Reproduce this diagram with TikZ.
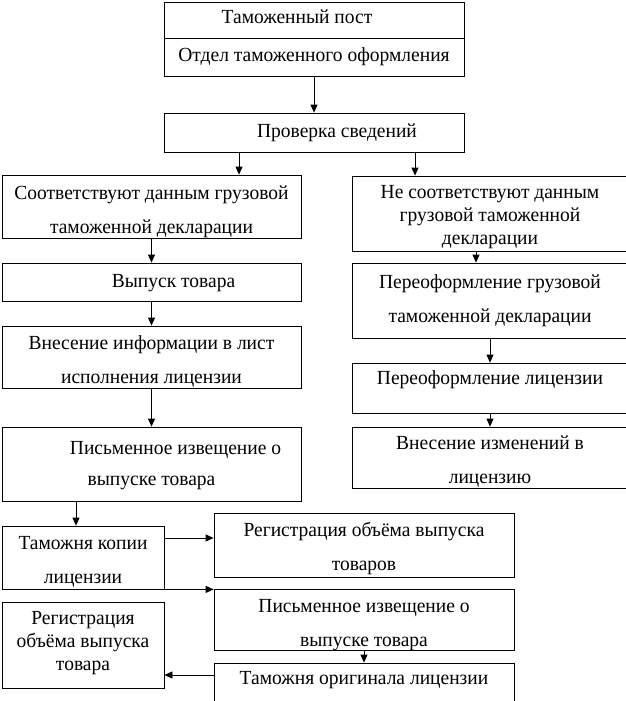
\documentclass[tikz,border=0pt]{standalone}
\usepackage{fontspec}
\setmainfont[FakeStretch=0.975]{Liberation Serif}
\usetikzlibrary{arrows.meta}
\newcommand\boxtext[2][0pt]{\raisebox{#1}[\height][\depth]{\begin{tabular}{@{}c@{}}#2\end{tabular}}}
\tikzset{
  box/.style={draw, line width=0.8pt, align=center, inner sep=0pt,
    font=\fontsize{20}{23}\selectfont},
  arr/.style={line width=0.8pt, -{Triangle[length=8pt,width=7pt]}}
}
\begin{document}
\begin{tikzpicture}[x=1pt,y=-1pt]
\useasboundingbox (0,0) rectangle (626,701);
\clip (0,0) rectangle (626,701);
% top
\node[box, minimum width=300, minimum height=36] (post) at (314,20) {\boxtext[1pt]{\hspace*{-34pt}Таможенный пост}};
\node[box, minimum width=300, minimum height=38] (dept) at (314,57) {\boxtext{Отдел таможенного оформления}};
\node[box, minimum width=300, minimum height=39] (check) at (314,132.5) {\boxtext{\hspace*{46pt}Проверка сведений}};
% left column
\node[box, minimum width=299, minimum height=63] (ok) at (151.5,206.5) {\boxtext[-5pt]{Соответствуют данным грузовой\\[11pt]таможенной декларации}};
\node[box, minimum width=299, minimum height=38] (rel) at (151.5,282) {\boxtext[-1pt]{\hspace*{44pt}Выпуск товара}};
\node[box, minimum width=299, minimum height=62] (info) at (151.5,357) {\boxtext[-5pt]{Внесение информации в лист\\[11pt]исполнения лицензии}};
\node[box, minimum width=299, minimum height=74] (notif) at (151.5,464) {\boxtext[-1pt]{\hspace*{48pt}Письменное извещение о\\[8pt]выпуске товара}};
% right column
\node[box, minimum width=276, minimum height=75] (not) at (490,213.5) {\boxtext[-3pt]{Не соответствуют данным\\грузовой таможенной\\декларации}};
\node[box, minimum width=276, minimum height=75] (redecl) at (490,300.5) {\boxtext{Переоформление грузовой\\[11pt]таможенной декларации}};
\node[box, minimum width=276, minimum height=50] (relic) at (490,388) {\boxtext[8pt]{Переоформление лицензии}};
\node[box, minimum width=276, minimum height=61] (change) at (490,457.5) {\boxtext[-4pt]{Внесение изменений в\\[11pt]лицензию}};
% bottom
\node[box, minimum width=162, minimum height=63] (copy) at (83,557.5) {\boxtext[-4pt]{Таможня копии\\[11pt]лицензии}};
\node[box, minimum width=300, minimum height=64] (reg) at (364,545) {\boxtext[-4pt]{Регистрация объёма выпуска\\[11pt]товаров}};
\node[box, minimum width=300, minimum height=61] (notif2) at (364,619.5) {\boxtext[-5pt]{Письменное извещение о\\[11pt]выпуске товара}};
\node[box, minimum width=300, minimum height=52] (orig) at (364,689) {\boxtext[9pt]{Таможня оригинала лицензии}};
\node[box, minimum width=162, minimum height=86] (reglft) at (83,645) {\boxtext[2pt]{Регистрация\\объёма выпуска\\товара}};
% connectors
\draw[arr] (dept.south) -- (check.north);
\draw[arr] ([xshift=-75pt]check.south) -- ([xshift=-75pt]check.south |- ok.north);
\draw[arr] ([xshift=101pt]check.south) -- ([xshift=101pt]check.south |- not.north);
\draw[arr] (ok.south) -- (rel.north);
\draw[arr] (rel.south) -- (info.north);
\draw[arr] (info.south) -- (notif.north);
\draw[arr] ([xshift=-7pt]copy.north |- notif.south) -- ([xshift=-7pt]copy.north);
\draw[arr] ([xshift=-14pt]not.south) -- ([xshift=-14pt]not.south |- redecl.north);
\draw[arr] (redecl.south) -- (relic.north);
\draw[arr] (relic.south) -- (change.north);
\draw[arr] ([yshift=19.5pt]copy.east) -- ([yshift=19.5pt]copy.east -| reg.west);
\draw[arr] (copy.south east) -- (copy.south east -| notif2.west);
\draw[arr] (notif2.south) -- (orig.north);
\draw[arr] ([yshift=14pt]orig.west) -- ([yshift=14pt]orig.west -| reglft.east);
\end{tikzpicture}
\end{document}
